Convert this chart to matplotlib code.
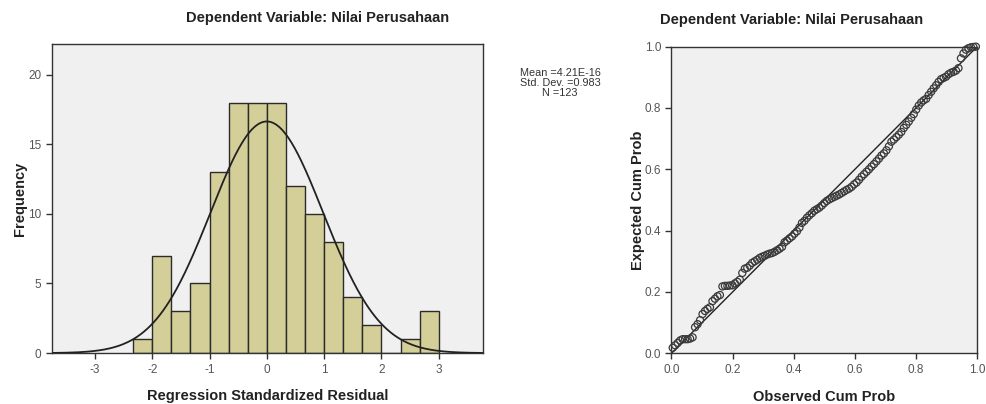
import matplotlib
matplotlib.use("Agg")
import matplotlib.pyplot as plt
import numpy as np

plt.rcParams['font.family'] = ['Liberation Sans', 'DejaVu Sans']
plt.rcParams['axes.unicode_minus'] = False

# histogram of regression standardized residuals
bin_start = -7 / 3
bin_width = 1 / 3
counts = [1, 7, 3, 5, 13, 18, 18, 18, 12, 10, 8, 4, 2, 0, 1, 3]
res_mean = 4.21e-16
res_sd = 0.983
n_obs = 123

# normal P-P plot: expected cum prob of each sorted residual
expected = [
    0.018, 0.026, 0.034, 0.042, 0.046, 0.046, 0.046, 0.048, 0.052, 0.085,
    0.095, 0.108, 0.128, 0.138, 0.145, 0.150, 0.170, 0.178, 0.186, 0.190,
    0.218, 0.220, 0.220, 0.221, 0.222, 0.228, 0.233, 0.240, 0.262, 0.276,
    0.279, 0.286, 0.295, 0.300, 0.305, 0.311, 0.315, 0.318, 0.322, 0.325,
    0.327, 0.331, 0.336, 0.341, 0.347, 0.362, 0.368, 0.375, 0.381, 0.390,
    0.398, 0.410, 0.425, 0.432, 0.442, 0.450, 0.457, 0.465, 0.470, 0.475,
    0.482, 0.490, 0.497, 0.502, 0.506, 0.510, 0.514, 0.518, 0.523, 0.528,
    0.533, 0.537, 0.543, 0.551, 0.557, 0.566, 0.576, 0.584, 0.592, 0.600,
    0.609, 0.617, 0.626, 0.635, 0.645, 0.652, 0.662, 0.675, 0.690, 0.697,
    0.705, 0.713, 0.722, 0.735, 0.745, 0.756, 0.768, 0.780, 0.795, 0.808,
    0.818, 0.825, 0.830, 0.842, 0.853, 0.864, 0.874, 0.885, 0.894, 0.898,
    0.902, 0.910, 0.915, 0.918, 0.922, 0.930, 0.962, 0.978, 0.990, 0.995,
    0.998, 0.999, 1.000,
]
# observed cum prob = rank of the residual
observed = (np.arange(1, len(expected) + 1) - 0.5) / len(expected)

title = "Dependent Variable: Nilai Perusahaan"
bg = "#f0f0f0"
tick_col = "#555555"

fig = plt.figure(figsize=(9.86, 4.04), dpi=100)

# --- histogram ---
ax1 = fig.add_axes([0.0527, 0.126, 0.437, 0.765])
ax1.set_facecolor(bg)
edges = bin_start + bin_width * np.arange(len(counts) + 1)
ax1.bar(edges[:-1], counts, width=bin_width, align="edge",
        color="#d4cf98", edgecolor="#2b2b2b", linewidth=1.0, zorder=2)
xs = np.linspace(-3.75, 3.77, 400)
z = (xs - res_mean) / res_sd
curve = n_obs * bin_width * np.exp(-0.5 * z ** 2) / (np.sqrt(2 * np.pi) * res_sd)
ax1.plot(xs, curve, color="#222222", linewidth=1.3, zorder=3)
ax1.set_xlim(-3.75, 3.77)
ax1.set_ylim(0, 22.2)
ax1.set_xticks([-3, -2, -1, 0, 1, 2, 3])
ax1.set_yticks([0, 5, 10, 15, 20])
ax1.set_xlabel("Regression Standardized Residual", fontsize=10.5,
               fontweight="bold", color="#222222", labelpad=10)
ax1.set_ylabel("Frequency", fontsize=10.5, fontweight="bold",
               color="#222222", labelpad=1)

fig.text(0.322, 0.955, title, ha="center", va="center", fontsize=10.5,
         fontweight="bold", color="#222222")
fig.text(0.568, 0.795, "Mean =4.21E-16\nStd. Dev. =0.983\nN =123",
         ha="center", va="center", fontsize=7.8, color="#333333",
         linespacing=1.0)

# --- P-P plot ---
ax2 = fig.add_axes([0.681, 0.1255, 0.310, 0.759])
ax2.set_facecolor(bg)
ax2.plot([0, 1], [0, 1], color="#222222", linewidth=1.0, zorder=2)
ax2.scatter(observed, expected, s=26, facecolors="none",
            edgecolors="#3a3a3a", linewidths=0.9, zorder=3, clip_on=False)
ax2.set_xlim(0, 1)
ax2.set_ylim(0, 1)
ticks = [0.0, 0.2, 0.4, 0.6, 0.8, 1.0]
ax2.set_xticks(ticks)
ax2.set_yticks(ticks)
ax2.set_xticklabels([f"{t:.1f}" for t in ticks])
ax2.set_yticklabels([f"{t:.1f}" for t in ticks])
ax2.set_xlabel("Observed Cum Prob", fontsize=10.5, fontweight="bold",
               color="#222222", labelpad=10)
ax2.set_ylabel("Expected Cum Prob", fontsize=10.5, fontweight="bold",
               color="#222222", labelpad=0)
fig.text(0.803, 0.95, title, ha="center", va="center", fontsize=10.5,
         fontweight="bold", color="#222222")

for ax in (ax1, ax2):
    for s in ax.spines.values():
        s.set_color("#333333")
        s.set_linewidth(1.0)
    ax.tick_params(direction="out", length=4, width=1, colors="#333333",
                   labelcolor=tick_col, labelsize=8.5)

fig.savefig("out.png", dpi=100, facecolor="white")
